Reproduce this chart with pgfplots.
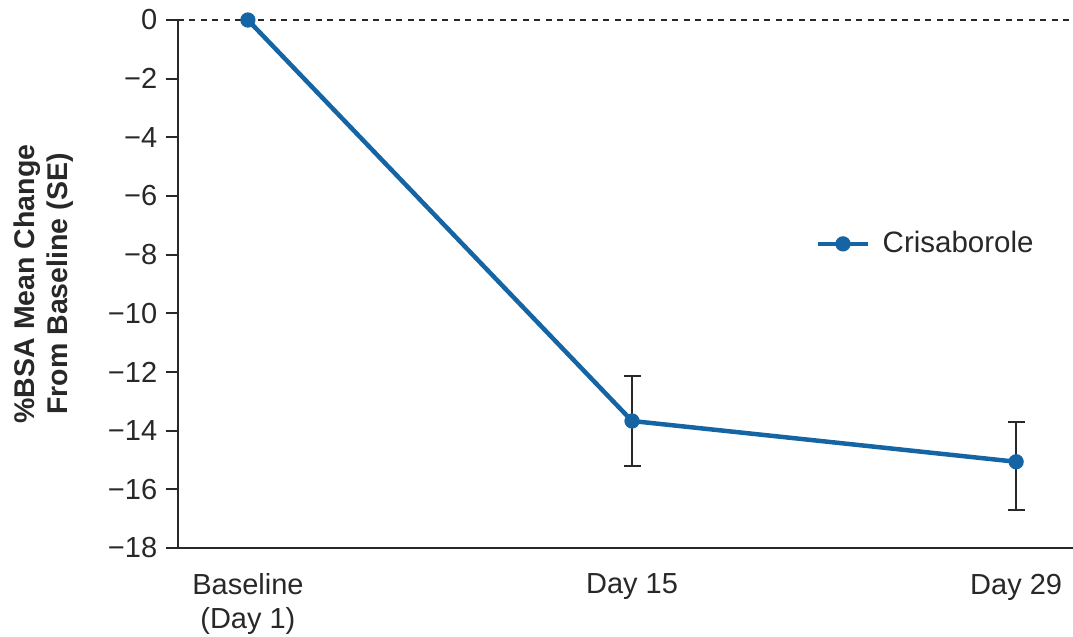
\documentclass[border=0pt]{standalone}
\usepackage{pgfplots}
\pgfplotsset{compat=1.18}
\usepackage{fontspec}
\setmainfont{Liberation Sans}
\definecolor{cblue}{RGB}{21,101,165}
\definecolor{dgray}{RGB}{40,40,40}
\begin{document}
\begin{tikzpicture}
\begin{axis}[
  scale only axis,
  width=358pt, height=211.2pt,
  xmin=-0.182, xmax=2.148,
  ymin=-18, ymax=0,
  axis y line=left, axis x line=bottom,
  axis line style={-, dgray, line width=0.8pt},
  xtick={0,1,2},
  xticklabels={{Baseline\\(Day 1)},{Day 15},{Day 29}},
  xticklabel style={align=center, font=\fontsize{11.6}{13.4}\selectfont, text=dgray, yshift=-2pt},
  x tick style={draw=none},
  ytick={-18,-16,...,0},
  yticklabels={−18,−16,−14,−12,−10,−8,−6,−4,−2,0},
  yticklabel style={font=\fontsize{11.6}{13.4}\selectfont, text=dgray},
  y tick style={dgray, line width=0.8pt},
  tick align=outside,
  major tick length=4.8pt,
  ylabel={\%BSA Mean Change\\From Baseline (SE)},
  ylabel style={align=center, font=\bfseries\fontsize{11.4}{13.2}\selectfont, text=dgray},
  ylabel shift=7pt,
  clip=false,
  legend style={at={(rel axis cs:0.712,0.576)}, anchor=west, draw=none, fill=none,
    font=\fontsize{11.8}{13.4}\selectfont, text=dgray, inner sep=0pt,
    /tikz/every even column/.append style={column sep=0pt}},
  legend image code/.code={\draw[mark repeat=2, mark phase=2,#1] plot coordinates {(0pt,0pt)(10pt,0pt)(20pt,0pt)};},
  legend cell align=left,
]
\coordinate (O) at (rel axis cs:0,0);
\addplot[forget plot, dgray, line width=0.75pt, dash pattern=on 2.4pt off 2.2pt] coordinates {(-0.182,0) (2.148,0)};
\addplot[forget plot, draw=none, mark=none,
  error bars/.cd, y dir=both, y explicit,
  error bar style={dgray, line width=0.8pt},
  error mark options={rotate=90, mark size=3.4pt, dgray, line width=0.8pt}]
  coordinates {(1,-13.67) += (0,1.53) -= (0,1.53) (2,-15.06) += (0,1.36) -= (0,1.64)};
\addplot[cblue, line width=1.8pt, mark=*, mark size=2.8pt, mark options={fill=cblue, draw=cblue, line width=0.5pt}]
  coordinates {(0,0) (1,-13.67) (2,-15.06)};
\addlegendentry{\hspace{3pt}Crisaborole}
\end{axis}
\pgfresetboundingbox
\useasboundingbox ([shift={(-71.2pt,-35.6pt)}]O) rectangle ([shift={(358pt,219.2pt)}]O);
\end{tikzpicture}
\end{document}
